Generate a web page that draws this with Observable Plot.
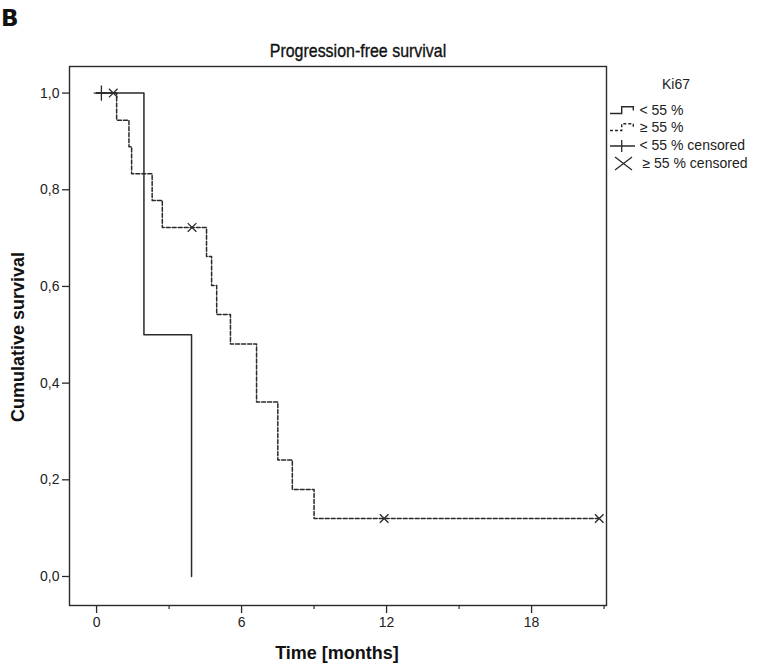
<!DOCTYPE html>
<html>
<head>
<meta charset="utf-8">
<script src="https://cdn.jsdelivr.net/npm/d3@7"></script>
<script src="https://cdn.jsdelivr.net/npm/@observablehq/plot@0.6"></script>
<style>
  html, body { margin: 0; padding: 0; background: #fff; }
  #wrap { position: relative; width: 760px; height: 670px; font-family: "Liberation Sans", Arial, sans-serif; color: #222; }
  #wrap svg.plot { position: absolute; left: 0; top: 0; }
  .abs { position: absolute; white-space: nowrap; }
  #panel { left: 1px; top: 5px; font-family: "DejaVu Sans", sans-serif; font-weight: bold; font-size: 23px; color: #111; }
  #title { left: 358px; top: 40px; transform: translateX(-50%) scaleX(0.84); font-size: 19px; color: #111; -webkit-text-stroke: 0.35px #111; }
  #xlabel { left: 337px; top: 643px; transform: translateX(-50%); font-size: 18px; font-weight: bold; color: #111; }
  #ylabel { left: 18px; top: 337px; transform: translate(-50%, -50%) rotate(-90deg); font-size: 18px; font-weight: bold; color: #111; }
  #legend { position: absolute; left: 600px; top: 60px; }
</style>
</head>
<body>
<div id="wrap"></div>
<script>
// ---- data ----
const lowTimes  = [0, 1.96, 3.93];            // Ki67 < 55 %
const lowSurv   = [1.0, 0.5, 0.0];
const lowCensT  = [0.2];
const lowCensS  = [1.0];

const highTimes = [0, 0.83, 1.34, 1.45, 2.30, 2.72, 4.55, 4.76, 4.97, 5.54, 6.62, 7.50, 8.10, 9.00, 20.8]; // Ki67 >= 55 %
const highSurv  = [1.0, 0.944, 0.889, 0.833, 0.778, 0.722, 0.662, 0.602, 0.542, 0.481, 0.361, 0.241, 0.180, 0.120, 0.120];
const highCensT = [0.69, 3.95, 11.9, 20.8];
const highCensS = [1.0, 0.722, 0.120, 0.120];

const xMajorTicks = [0, 6, 12, 18];
const xMinorTicks = [3, 9, 15, 21];
const yTicks = [0, 0.2, 0.4, 0.6, 0.8, 1.0];

const titleText = "Progression-free survival";
const xLabel = "Time [months]";
const yLabel = "Cumulative survival";
const legendTitle = "Ki67";
const legendLabels = ["< 55 %", "≥ 55 %", "< 55 % censored", "≥ 55 % censored"];

// ---- build tables ----
const low = lowTimes.map((t, i) => ({t, s: lowSurv[i]}));
const high = highTimes.map((t, i) => ({t, s: highSurv[i]}));
const lowC = lowCensT.map((t, i) => ({t, s: lowCensS[i]}));
const highC = highCensT.map((t, i) => ({t, s: highCensS[i]}));
const comma = d => d.toFixed(1).replace(".", ",");

const ink = "#2a2a2a";
const chart = Plot.plot({
  width: 760,
  height: 670,
  marginLeft: 69,
  marginRight: 154,
  marginTop: 66,
  marginBottom: 65,
  style: {fontFamily: "'Liberation Sans', Arial, sans-serif", fontSize: "14px", color: "#222", background: "transparent"},
  x: {domain: [-1.12, 21.1]},
  y: {domain: [-0.06, 1.055]},
  marks: [
    Plot.axisY({ticks: yTicks, tickFormat: comma, tickSize: 7, tickPadding: 3, label: null, stroke: ink, strokeWidth: 1.3, fontSize: 14}),
    Plot.axisX({ticks: xMajorTicks, tickFormat: d => String(d), tickSize: 8, tickPadding: 4, label: null, stroke: ink, strokeWidth: 1.3, fontSize: 14}),
    Plot.axisX({ticks: xMinorTicks, tickFormat: () => "", tickSize: 4, label: null, stroke: ink, strokeWidth: 1.2}),
    Plot.frame({stroke: ink, strokeWidth: 1.4}),
    Plot.line(low, {x: "t", y: "s", curve: "step-after", stroke: ink, strokeWidth: 1.5}),
    Plot.line(high, {x: "t", y: "s", curve: "step-after", stroke: ink, strokeWidth: 1.5, strokeDasharray: "4,2"}),
    Plot.dot(lowC, {x: "t", y: "s", symbol: "plus", r: 5, stroke: ink, strokeWidth: 1.3}),
    Plot.dot(highC, {x: "t", y: "s", symbol: "times", r: 4, stroke: ink, strokeWidth: 1.3})
  ]
});
chart.classList.add("plot");

const wrap = document.getElementById("wrap");
wrap.appendChild(chart);

function addText(id, txt) {
  const d = document.createElement("div");
  d.className = "abs"; d.id = id; d.textContent = txt;
  wrap.appendChild(d);
  return d;
}
addText("panel", "B");
addText("title", titleText);
addText("xlabel", xLabel);
addText("ylabel", yLabel);

// legend (small standalone SVG placed to the right of the plot frame)
const glyphs = [
  `<path d="M10,53.5 H21.7 V46.8 H33.3 V50.5" fill="none" stroke="${ink}" stroke-width="1.4"/>`,
  `<path d="M10,70.5 H21.7 V63.8 H33.3 V67.5" fill="none" stroke="${ink}" stroke-width="1.4" stroke-dasharray="3,2"/>`,
  `<path d="M10,86 H35 M21.7,80 V92" fill="none" stroke="${ink}" stroke-width="1.3"/>`,
  `<path d="M15,97 L32,110 M15,110 L32,97" fill="none" stroke="${ink}" stroke-width="1.3"/>`
];
const textX = [39.5, 40, 39.5, 42.5];
const textY = [55, 72, 89.5, 107.5];
let svg = `<svg id="legend" width="160" height="120" viewBox="0 0 160 120" font-family="'Liberation Sans', Arial, sans-serif">`;
svg += `<text x="76" y="28.5" text-anchor="middle" font-size="14" fill="#222">${legendTitle}</text>`;
legendLabels.forEach((lab, i) => {
  svg += glyphs[i];
  svg += `<text x="${textX[i]}" y="${textY[i]}" font-size="14" fill="#222">${lab}</text>`;
});
svg += `</svg>`;
const legHolder = document.createElement("div");
legHolder.innerHTML = svg;
wrap.appendChild(legHolder.firstChild);
</script>
</body>
</html>
